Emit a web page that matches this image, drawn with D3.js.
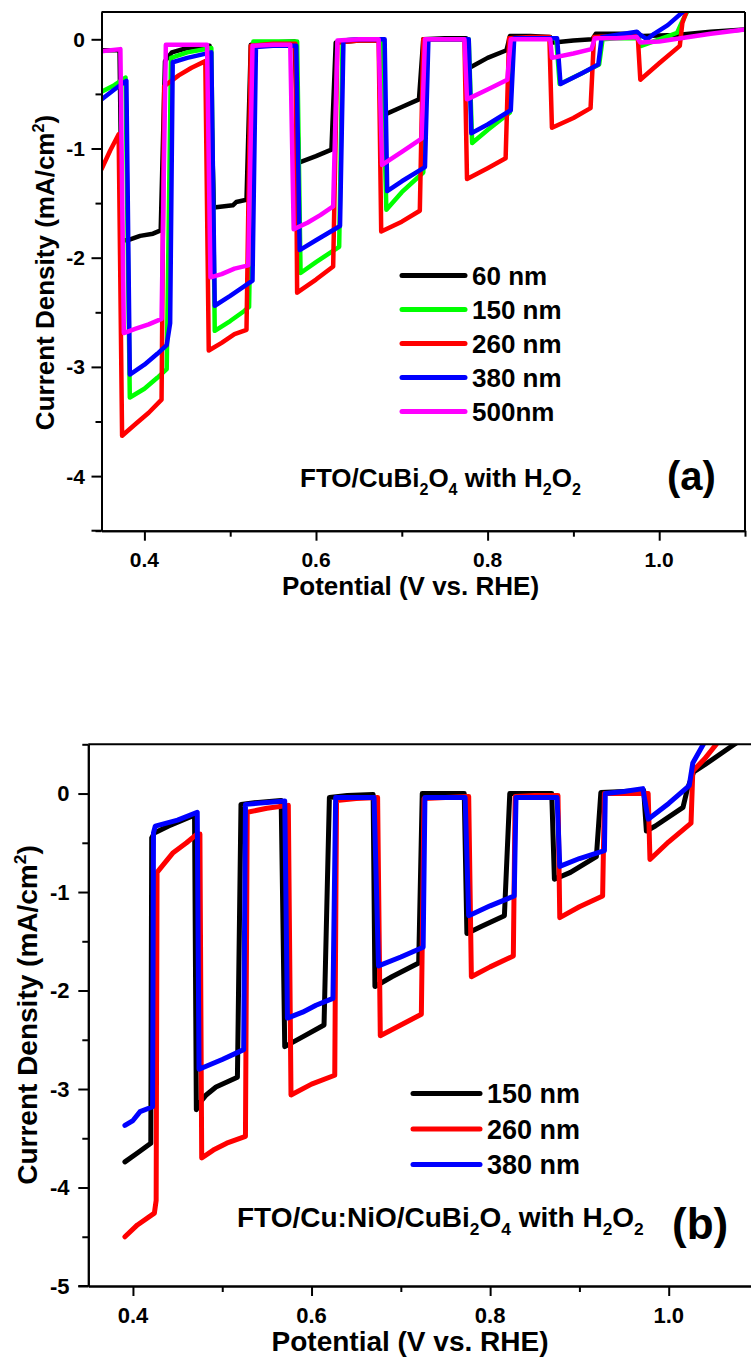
<!DOCTYPE html>
<html><head><meta charset="utf-8">
<script src="https://cdn.jsdelivr.net/npm/d3@7"></script>
<style>
html,body{margin:0;padding:0;background:#fff;}
text{font-family:"Liberation Sans",Arial,sans-serif;font-weight:bold;fill:#000;}
</style></head>
<body>
<svg id="chart" width="751" height="1364"></svg>
<script>
// ---------- DATA ----------
const xMajor = [0.4, 0.6, 0.8, 1.0];
const xMinor = [0.5, 0.7, 0.9, 1.1];
const yMajorA = [0, -1, -2, -3, -4];
const yMinorA = [-0.5, -1.5, -2.5, -3.5, -4.5];
const yMajorB = [0, -1, -2, -3, -4, -5];
const yMinorB = [0.5, -0.5, -1.5, -2.5, -3.5, -4.5];

const labelsA = ["60 nm", "150 nm", "260 nm", "380 nm", "500nm"];
const colorsA = ["#000000", "#00ff00", "#ff0000", "#0000ff", "#ff00ff"];
const labelsB = ["150 nm", "260 nm", "380 nm"];
const colorsB = ["#000000", "#ff0000", "#0000ff"];

// Panel (a): [potential V, current density mA/cm2]
const a60 = [[0.350,-0.10],[0.371,-0.10],[0.374,-1.84],[0.381,-1.84],[0.395,-1.80],[0.410,-1.78],[0.419,-1.75],[0.424,-0.20],[0.432,-0.12],[0.450,-0.08],[0.476,-0.06],[0.481,-1.54],[0.503,-1.52],[0.507,-1.49],[0.519,-1.47],[0.524,-0.05],[0.550,-0.03],[0.575,-0.02],[0.580,-1.13],[0.600,-1.07],[0.618,-1.01],[0.623,-0.03],[0.650,-0.01],[0.676,-0.01],[0.680,-0.69],[0.700,-0.62],[0.720,-0.55],[0.725,0.00],[0.750,0.01],[0.775,0.01],[0.779,-0.26],[0.800,-0.17],[0.822,-0.10],[0.826,0.03],[0.850,0.03],[0.873,0.02],[0.877,-0.03],[0.900,-0.01],[0.922,0.00],[0.926,0.05],[0.950,0.05],[0.975,0.05],[0.980,0.03],[1.020,0.04],[1.060,0.07],[1.100,0.09]];
const a150 = [[0.350,-0.48],[0.365,-0.42],[0.378,-0.35],[0.383,-3.28],[0.400,-3.20],[0.415,-3.10],[0.426,-3.02],[0.431,-0.17],[0.450,-0.12],[0.478,-0.08],[0.482,-2.67],[0.500,-2.58],[0.516,-2.49],[0.522,-2.45],[0.527,-0.02],[0.550,-0.02],[0.578,-0.02],[0.582,-2.14],[0.600,-2.04],[0.627,-1.90],[0.631,-0.01],[0.650,0.00],[0.677,0.00],[0.682,-1.56],[0.700,-1.40],[0.725,-1.22],[0.730,0.00],[0.750,0.00],[0.778,0.00],[0.782,-0.95],[0.800,-0.83],[0.826,-0.67],[0.830,0.01],[0.850,0.01],[0.880,0.01],[0.884,-0.41],[0.910,-0.31],[0.930,-0.23],[0.934,0.00],[0.950,0.01],[0.976,0.01],[0.979,-0.06],[1.000,0.00],[1.021,0.06],[1.026,0.15],[1.033,0.26]];
const a260 = [[0.350,-1.19],[0.360,-1.02],[0.370,-0.87],[0.374,-3.63],[0.390,-3.52],[0.405,-3.42],[0.420,-3.30],[0.423,-0.43],[0.440,-0.33],[0.455,-0.26],[0.471,-0.20],[0.475,-2.85],[0.490,-2.78],[0.505,-2.70],[0.519,-2.66],[0.524,-0.06],[0.550,-0.04],[0.576,-0.04],[0.578,-2.32],[0.600,-2.20],[0.620,-2.08],[0.625,-0.03],[0.650,-0.01],[0.673,-0.01],[0.676,-1.76],[0.700,-1.67],[0.721,-1.57],[0.725,0.00],[0.750,0.00],[0.773,0.00],[0.776,-1.28],[0.800,-1.18],[0.821,-1.09],[0.825,0.01],[0.850,0.02],[0.872,0.02],[0.875,-0.81],[0.900,-0.72],[0.920,-0.63],[0.924,0.02],[0.950,0.03],[0.975,0.03],[0.978,-0.37],[1.000,-0.22],[1.024,-0.06],[1.027,0.15],[1.032,0.26]];
const a380 = [[0.350,-0.55],[0.365,-0.46],[0.379,-0.38],[0.383,-3.07],[0.400,-2.98],[0.415,-2.88],[0.426,-2.80],[0.430,-2.60],[0.433,-0.21],[0.450,-0.17],[0.478,-0.12],[0.482,-2.44],[0.500,-2.35],[0.526,-2.21],[0.530,-0.07],[0.550,-0.06],[0.577,-0.06],[0.581,-1.93],[0.600,-1.84],[0.628,-1.71],[0.632,-0.01],[0.650,0.00],[0.680,0.00],[0.683,-1.39],[0.700,-1.30],[0.727,-1.17],[0.731,0.00],[0.750,0.00],[0.778,0.00],[0.781,-0.86],[0.800,-0.78],[0.827,-0.65],[0.831,0.01],[0.850,0.01],[0.881,0.01],[0.885,-0.41],[0.910,-0.31],[0.929,-0.23],[0.933,0.02],[0.950,0.04],[0.974,0.07],[0.978,0.04],[0.986,0.00],[0.994,0.05],[1.010,0.13],[1.029,0.26]];
const a500 = [[0.350,-0.11],[0.372,-0.09],[0.376,-2.69],[0.390,-2.65],[0.405,-2.61],[0.420,-2.56],[0.425,-0.05],[0.450,-0.05],[0.473,-0.05],[0.477,-2.18],[0.490,-2.15],[0.505,-2.10],[0.521,-2.07],[0.526,-0.06],[0.550,-0.05],[0.570,-0.05],[0.574,-1.74],[0.590,-1.68],[0.605,-1.61],[0.620,-1.53],[0.625,-0.01],[0.650,0.00],[0.673,0.00],[0.677,-1.15],[0.700,-1.03],[0.723,-0.91],[0.727,0.00],[0.750,0.00],[0.773,0.00],[0.776,-0.55],[0.800,-0.46],[0.823,-0.37],[0.827,0.00],[0.850,0.00],[0.873,0.00],[0.875,-0.17],[0.900,-0.13],[0.921,-0.09],[0.925,0.01],[0.950,0.01],[0.974,0.02],[0.978,-0.03],[1.000,-0.02],[1.025,0.01],[1.060,0.05],[1.100,0.09]];

// Panel (b)
const b150 = [[0.391,-3.74],[0.405,-3.65],[0.420,-3.55],[0.421,-0.45],[0.424,-0.40],[0.440,-0.33],[0.466,-0.23],[0.469,-0.23],[0.471,-3.21],[0.474,-3.15],[0.482,-3.06],[0.493,-2.98],[0.517,-2.88],[0.521,-0.11],[0.540,-0.09],[0.566,-0.07],[0.570,-2.57],[0.590,-2.47],[0.614,-2.35],[0.620,-0.04],[0.640,-0.02],[0.669,-0.01],[0.671,-1.96],[0.690,-1.86],[0.720,-1.72],[0.724,0.00],[0.750,0.00],[0.771,0.00],[0.774,-1.42],[0.790,-1.35],[0.816,-1.24],[0.822,0.00],[0.850,0.00],[0.869,0.00],[0.872,-0.87],[0.890,-0.80],[0.919,-0.64],[0.924,0.01],[0.950,0.02],[0.972,0.03],[0.975,-0.38],[0.985,-0.33],[1.016,-0.14],[1.021,0.05],[1.028,0.22],[1.040,0.29],[1.072,0.49],[1.090,0.60]];
const b260 = [[0.391,-4.50],[0.405,-4.38],[0.424,-4.26],[0.426,-4.13],[0.427,-0.80],[0.445,-0.60],[0.460,-0.50],[0.472,-0.41],[0.475,-0.41],[0.477,-3.70],[0.490,-3.62],[0.505,-3.55],[0.526,-3.48],[0.528,-0.19],[0.550,-0.15],[0.574,-0.12],[0.577,-3.06],[0.600,-2.95],[0.626,-2.86],[0.628,-0.07],[0.650,-0.05],[0.674,-0.04],[0.677,-2.46],[0.700,-2.35],[0.723,-2.24],[0.726,-0.05],[0.750,-0.04],[0.776,-0.03],[0.779,-1.86],[0.800,-1.76],[0.826,-1.65],[0.828,-0.03],[0.850,-0.02],[0.876,-0.02],[0.878,-1.26],[0.900,-1.15],[0.926,-1.04],[0.928,0.00],[0.950,0.00],[0.977,0.00],[0.979,-0.67],[1.000,-0.49],[1.025,-0.30],[1.027,0.23],[1.040,0.35],[1.055,0.52]];
const b380 = [[0.391,-3.37],[0.400,-3.32],[0.408,-3.23],[0.422,-3.18],[0.423,-0.40],[0.425,-0.33],[0.450,-0.27],[0.472,-0.19],[0.474,-2.80],[0.500,-2.70],[0.524,-2.60],[0.526,-0.11],[0.550,-0.09],[0.570,-0.075],[0.573,-2.28],[0.590,-2.22],[0.605,-2.15],[0.624,-2.08],[0.627,-0.04],[0.650,-0.04],[0.670,-0.04],[0.675,-1.75],[0.700,-1.66],[0.725,-1.56],[0.727,-0.04],[0.750,-0.04],[0.772,-0.04],[0.776,-1.24],[0.800,-1.14],[0.827,-1.04],[0.829,-0.04],[0.850,-0.04],[0.875,-0.04],[0.878,-0.74],[0.900,-0.66],[0.928,-0.58],[0.929,0.00],[0.950,0.02],[0.971,0.05],[0.977,-0.26],[1.000,-0.10],[1.023,0.08],[1.027,0.31],[1.040,0.52]];

const seriesA = [a60, a150, a260, a380, a500];
const seriesB = [b150, b260, b380];

// ---------- DRAW ----------
const svg = d3.select("#chart");

function panel(cfg) {
  const g = svg.append("g");
  const x = d3.scaleLinear().domain(cfg.xDom).range([cfg.left, cfg.right]);
  const y = d3.scaleLinear().domain(cfg.yDom).range([cfg.bottom, cfg.top]);

  const clipId = "clip" + cfg.id;
  svg.append("clipPath").attr("id", clipId).append("rect")
    .attr("x", cfg.left).attr("y", cfg.top)
    .attr("width", cfg.right - cfg.left).attr("height", cfg.bottom - cfg.top);

  const line = d3.line().x(d => x(d[0])).y(d => y(d[1]));
  g.append("g").attr("clip-path", `url(#${clipId})`)
    .selectAll("path").data(cfg.series).join("path")
    .attr("d", line).attr("fill", "none")
    .attr("stroke", (d, i) => cfg.colors[i])
    .attr("stroke-width", cfg.lw).attr("stroke-linejoin", "round").attr("stroke-linecap", "round");

  // frame
  g.append("line").attr("x1", cfg.left).attr("x2", cfg.right).attr("y1", cfg.top).attr("y2", cfg.top)
    .attr("stroke", "#000").attr("stroke-width", 2);
  g.append("line").attr("x1", cfg.right).attr("x2", cfg.right).attr("y1", cfg.top).attr("y2", cfg.bottom)
    .attr("stroke", "#000").attr("stroke-width", 2);

  // axes
  const styleAxis = sel => {
    sel.selectAll("path.domain").attr("stroke", "#000").attr("stroke-width", 2);
    sel.selectAll(".tick line").attr("stroke", "#000").attr("stroke-width", 2);
    sel.selectAll(".tick text").remove();
  };
  g.append("g").attr("transform", `translate(0,${cfg.bottom})`)
    .call(d3.axisBottom(x).tickValues(xMinor.filter(v => v <= cfg.xDom[1] + 1e-9)).tickSize(6).tickSizeOuter(0).tickFormat(""))
    .call(styleAxis);
  g.append("g").attr("transform", `translate(0,${cfg.bottom})`)
    .call(d3.axisBottom(x).tickValues(xMajor).tickSize(10).tickSizeOuter(0))
    .call(styleAxis);
  g.append("g").attr("transform", `translate(${cfg.left},0)`)
    .call(d3.axisLeft(y).tickValues(cfg.yMinor).tickSize(6).tickSizeOuter(0).tickFormat(""))
    .call(styleAxis);
  g.append("g").attr("transform", `translate(${cfg.left},0)`)
    .call(d3.axisLeft(y).tickValues(cfg.yMajor).tickSize(10).tickSizeOuter(0))
    .call(styleAxis);
  g.append("line").attr("x1", cfg.left - 10).attr("x2", cfg.left).attr("y1", cfg.bottom).attr("y2", cfg.bottom)
    .attr("stroke", "#000").attr("stroke-width", 2);

  // tick labels
  g.selectAll("text.xt").data(xMajor).join("text").attr("class", "xt")
    .attr("x", d => x(d)).attr("y", cfg.xLabelY).attr("text-anchor", "middle")
    .style("font-size", cfg.tickFs + "px").text(d => d3.format(".1f")(d));
  g.selectAll("text.yt").data(cfg.yMajor).join("text").attr("class", "yt")
    .attr("x", cfg.yLabelX).attr("y", d => y(d) + cfg.tickFs * 0.36).attr("text-anchor", "end")
    .style("font-size", cfg.tickFs + "px").text(d => String(d));

  // axis titles
  g.append("text").attr("x", cfg.xTitleX).attr("y", cfg.xTitleY).attr("text-anchor", "middle")
    .style("font-size", cfg.titleFs + "px").text("Potential (V vs. RHE)");
  const yt = g.append("text").attr("transform", `translate(${cfg.yTitleX},${cfg.yTitleY}) rotate(-90)`)
    .attr("text-anchor", "middle").style("font-size", cfg.titleFs + "px");
  yt.append("tspan").text("Current Density (mA/cm");
  yt.append("tspan").attr("dy", -cfg.titleFs * 0.4).style("font-size", (cfg.titleFs * 0.62) + "px").text("2");
  yt.append("tspan").attr("dy", cfg.titleFs * 0.4).text(")");

  // legend
  const lg = g.append("g");
  cfg.labels.forEach((lab, i) => {
    const yy = cfg.legY + i * cfg.legDy;
    lg.append("line").attr("x1", cfg.legX1).attr("x2", cfg.legX2).attr("y1", yy).attr("y2", yy)
      .attr("stroke", cfg.colors[i]).attr("stroke-width", 5).attr("stroke-linecap", "round");
    lg.append("text").attr("x", cfg.legTx).attr("y", yy + cfg.legFs * 0.36)
      .style("font-size", cfg.legFs + "px").text(lab);
  });

  // annotation with subscripts
  const an = g.append("text").attr("x", cfg.annX).attr("y", cfg.annY).style("font-size", cfg.annFs + "px");
  const subFs = cfg.annFs * 0.62, sh = cfg.annFs * 0.3;
  cfg.annParts.forEach(p => {
    if (p.sub) {
      an.append("tspan").attr("dy", sh).style("font-size", subFs + "px").text(p.t);
    } else {
      const t = an.append("tspan").text(p.t);
      if (p.after) t.attr("dy", -sh);
    }
  });
  g.append("text").attr("x", cfg.tagX).attr("y", cfg.tagY).style("font-size", cfg.tagFs + "px").text(cfg.tag);
}

panel({
  id: "A", xDom: [0.35, 1.1], yDom: [-4.5, 0.25],
  left: 101.5, right: 745, top: 12, bottom: 530.7,
  series: seriesA, colors: colorsA, labels: labelsA, lw: 4.5,
  yMajor: yMajorA, yMinor: yMinorA,
  tickFs: 21, xLabelY: 566.5, yLabelX: 85,
  titleFs: 26, xTitleX: 410.5, xTitleY: 595, yTitleX: 54, yTitleY: 272.5,
  legX1: 402, legX2: 465, legTx: 472, legY: 275.5, legDy: 34, legFs: 26,
  annX: 300, annY: 487, annFs: 26,
  annParts: [{t:"FTO/CuBi"},{t:"2",sub:1},{t:"O",after:1},{t:"4",sub:1},{t:" with H",after:1},{t:"2",sub:1},{t:"O",after:1},{t:"2",sub:1}],
  tag: "(a)", tagX: 667, tagY: 490, tagFs: 40
});

panel({
  id: "B", xDom: [0.35, 1.1], yDom: [-5, 0.5],
  left: 88.3, right: 758, top: 744.3, bottom: 1286,
  series: seriesB, colors: colorsB, labels: labelsB, lw: 5,
  yMajor: yMajorB, yMinor: yMinorB,
  tickFs: 22, xLabelY: 1322.5, yLabelX: 69.5,
  titleFs: 28, xTitleX: 410, xTitleY: 1351, yTitleX: 37, yTitleY: 1015,
  legX1: 413, legX2: 480, legTx: 487, legY: 1093.5, legDy: 35.5, legFs: 27,
  annX: 237, annY: 1227, annFs: 28,
  annParts: [{t:"FTO/Cu:NiO/CuBi"},{t:"2",sub:1},{t:"O",after:1},{t:"4",sub:1},{t:" with H",after:1},{t:"2",sub:1},{t:"O",after:1},{t:"2",sub:1}],
  tag: "(b)", tagX: 672, tagY: 1239, tagFs: 44
});
</script>
</body></html>
